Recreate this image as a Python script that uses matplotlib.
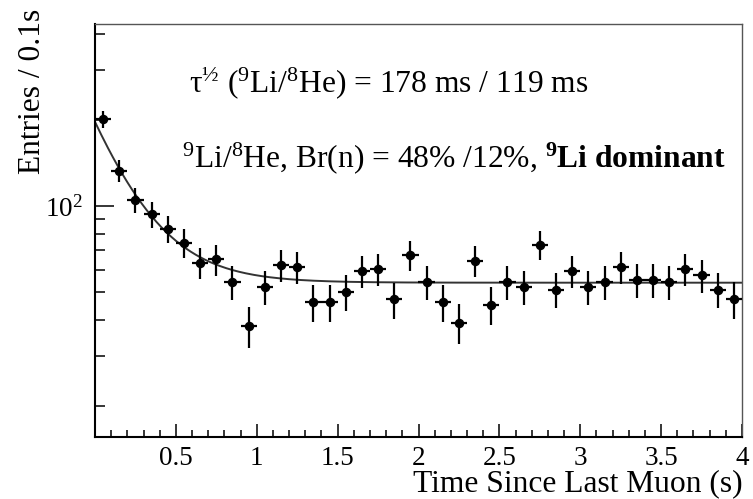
import numpy as np
import matplotlib
matplotlib.use("Agg")
import matplotlib.pyplot as plt
from matplotlib.ticker import FixedLocator, NullFormatter, FixedFormatter

# Bin centres (s) and entries per 0.1 s bin
bin_centres = [0.05, 0.15, 0.25, 0.35, 0.45, 0.55, 0.65, 0.75, 0.85, 0.95,
               1.05, 1.15, 1.25, 1.35, 1.45, 1.55, 1.65, 1.75, 1.85, 1.95,
               2.05, 2.15, 2.25, 2.35, 2.45, 2.55, 2.65, 2.75, 2.85, 2.95,
               3.05, 3.15, 3.25, 3.35, 3.45, 3.55, 3.65, 3.75, 3.85, 3.95]
entries = [201, 133, 105, 93.5, 83.3, 74.4, 63.4, 65.1, 54.2, 38.2,
           52.2, 62.4, 61.4, 46.3, 46.3, 50.2, 59.3, 60.4, 47.2, 67.4,
           54.4, 46.3, 39.1, 64.4, 45.3, 54.4, 52.2, 73.4, 51.1, 59.4,
           52.2, 54.4, 61.4, 55.1, 55.1, 54.4, 60.2, 57.4, 51.1, 47.3]
bin_half_width = 0.05

# fitted decay + flat background
fit_level = 54.0
fit_amp = 143.0
fit_tau = 0.265

x_major = [0.5, 1, 1.5, 2, 2.5, 3, 3.5, 4]
x_major_labels = ["0.5", "1", "1.5", "2", "2.5", "3", "3.5", "4"]
y_minor = [20, 30, 40, 50, 60, 70, 80, 90, 200, 300, 400]

plt.rcParams['font.family'] = ['Liberation Serif', 'DejaVu Serif']
plt.rcParams['mathtext.fontset'] = 'custom'
plt.rcParams['mathtext.rm'] = 'Liberation Serif'
plt.rcParams['mathtext.it'] = 'Liberation Serif:italic'
plt.rcParams['mathtext.bf'] = 'Liberation Serif:bold'

W, H = 753, 499
fig = plt.figure(figsize=(W / 100, H / 100), dpi=100)
ax = fig.add_axes([95 / W, 1 - 437 / H, (742 - 95) / W, (437 - 24) / H])

x = np.array(bin_centres)
y = np.array(entries)
err = np.sqrt(y)
ax.errorbar(x, y, yerr=err, xerr=bin_half_width, fmt='o', color='black',
            markersize=5.8, elinewidth=1.6, capsize=0, zorder=3)

t = np.linspace(0, 4, 400)
ax.plot(t, fit_level + fit_amp * np.exp(-t / fit_tau), color='#333333',
        lw=1.4, zorder=2)

ax.set_xlim(0, 4)
ax.set_yscale('log')
ax.set_ylim(15.6, 433)

ax.xaxis.set_major_locator(FixedLocator(x_major))
ax.xaxis.set_major_formatter(FixedFormatter(x_major_labels))
ax.xaxis.set_minor_locator(FixedLocator(np.arange(0.1, 4.0, 0.1)))
ax.yaxis.set_major_locator(FixedLocator([100]))
ax.yaxis.set_major_formatter(FixedFormatter([r'$\mathdefault{10^{2}}$']))
ax.yaxis.set_minor_locator(FixedLocator(y_minor))
ax.yaxis.set_minor_formatter(NullFormatter())

ax.tick_params(axis='x', which='major', direction='in', length=9.5, width=1.1,
               labelsize=19.5, pad=6.5)
ax.tick_params(axis='x', which='minor', direction='in', length=5, width=1.1)
ax.tick_params(axis='y', which='major', direction='in', length=14, width=1.1,
               labelsize=19.5, pad=9)
ax.tick_params(axis='y', which='minor', direction='in', length=7.5, width=1.1)

for side in ['left', 'bottom']:
    ax.spines[side].set_linewidth(1.5)
for side in ['top', 'right']:
    ax.spines[side].set_linewidth(1.0)
    ax.spines[side].set_color('#555555')

fig.text(33 / W, 1 - 9 / H, 'Entries / 0.1s', rotation=90, ha='center',
         va='top', fontsize=22.7)
fig.text(743 / W, 1 - 491 / H, 'Time Since Last Muon (s)', ha='right',
         va='baseline', fontsize=22.7)

fig.text(189 / W, 1 - 92 / H,
         r'τ$^{½}$ ($^{9}$Li/$^{8}$He) = 178 ms / 119 ms',
         ha='left', va='baseline', fontsize=22.7)
fig.text(182 / W, 1 - 167 / H,
         r'$^{9}$Li/$^{8}$He, Br(n) = 48% /12%, $\mathbf{^{9}Li\ dominant}$',
         ha='left', va='baseline', fontsize=22.7)

fig.savefig('out.png', dpi=100)
